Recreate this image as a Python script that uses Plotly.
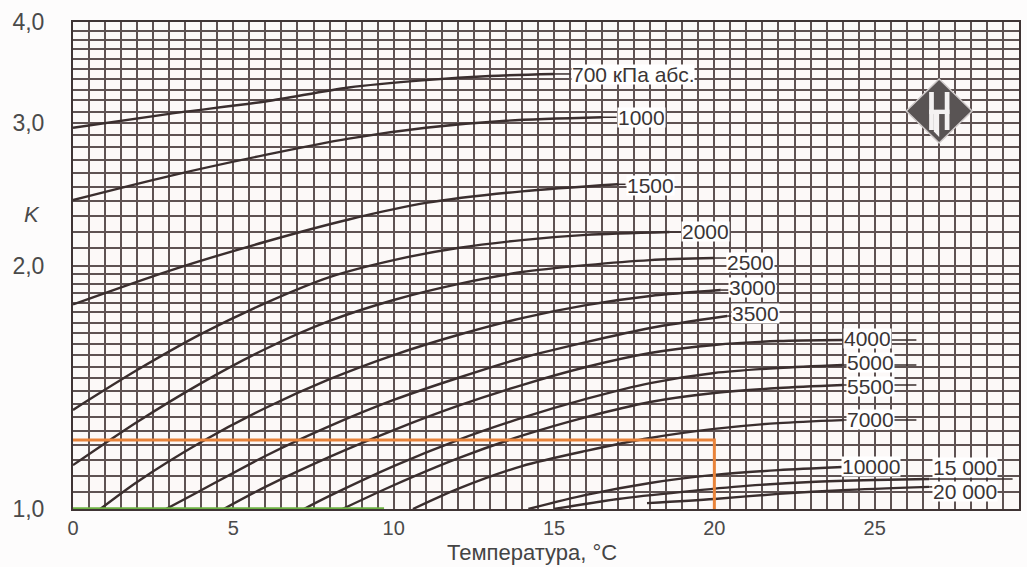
import math
import plotly.graph_objects as go

# ---- data (temperature in °C, K value) ----
t_700 = [0, 3, 6, 8.6, 11, 13, 15]
k_700 = [2.96, 3.08, 3.19, 3.32, 3.39, 3.43, 3.45]

t_1000 = [0, 3, 6, 8.6, 11, 13.5, 16.5]
k_1000 = [2.41, 2.58, 2.74, 2.87, 2.96, 3.02, 3.05]

t_1500 = [0, 3, 6, 8.6, 11, 14, 17]
k_1500 = [1.79, 1.97, 2.14, 2.28, 2.39, 2.47, 2.52]

t_2000 = [0, 2, 4, 6, 8, 10, 12, 14, 16, 18.6]
k_2000 = [1.326, 1.485, 1.646, 1.797, 1.935, 2.031, 2.102, 2.150, 2.182, 2.200]

t_2500 = [0, 2, 4, 6, 8, 10, 12, 14, 16, 18, 20]
k_2500 = [1.133, 1.281, 1.431, 1.577, 1.708, 1.813, 1.897, 1.963, 2.002, 2.031, 2.043]

t_3000 = [0.85, 2, 4, 6, 8, 10, 12, 14, 16, 18, 20.2]
k_3000 = [1.0, 1.080, 1.210, 1.333, 1.447, 1.550, 1.641, 1.722, 1.787, 1.834, 1.865]

t_3500 = [2.9, 4, 6, 8, 10, 12, 14, 16, 18, 20.4]
k_3500 = [1.0, 1.055, 1.163, 1.266, 1.364, 1.452, 1.537, 1.608, 1.674, 1.732]

t_4000 = [4.7, 6, 8, 10, 12, 14, 16, 18, 20, 22, 24]
k_4000 = [1.0, 1.065, 1.160, 1.252, 1.341, 1.423, 1.498, 1.559, 1.595, 1.613, 1.618]

t_5000 = [7.2, 8, 10, 12, 14, 16, 18, 20, 22, 24]
k_5000 = [1.0, 1.038, 1.130, 1.217, 1.296, 1.368, 1.431, 1.473, 1.494, 1.507]

t_5500 = [8.4, 10, 12, 14, 16, 18, 20, 22, 24]
k_5500 = [1.0, 1.070, 1.155, 1.232, 1.299, 1.356, 1.391, 1.411, 1.423]

t_7000 = [10.6, 12, 14, 16, 18, 20, 22, 24]
k_7000 = [1.0, 1.059, 1.130, 1.180, 1.224, 1.256, 1.277, 1.288]

t_10000 = [14.2, 16, 18, 20, 22, 24]
k_10000 = [1.0, 1.041, 1.077, 1.102, 1.117, 1.127]

t_15000 = [15, 17, 19, 21, 23, 25, 26.7]
k_15000 = [1.0, 1.029, 1.050, 1.068, 1.080, 1.086, 1.089]

t_20000 = [17.9, 20, 22, 24, 26.7]
k_20000 = [1.017, 1.029, 1.044, 1.055, 1.065]

curve_labels = ["700 кПа абс.", "1000", "1500", "2000", "2500", "3000", "3500",
                "4000", "5000", "5500", "7000", "10000", "15 000", "20 000"]
curve_t = [t_700, t_1000, t_1500, t_2000, t_2500, t_3000, t_3500,
           t_4000, t_5000, t_5500, t_7000, t_10000, t_15000, t_20000]
curve_k = [k_700, k_1000, k_1500, k_2000, k_2500, k_3000, k_3500,
           k_4000, k_5000, k_5500, k_7000, k_10000, k_15000, k_20000]

# label placement (left edge temperature, K of label centre) and leader end
label_t = [15.52, 16.95, 17.23, 18.97, 20.37, 20.44, 20.53,
           24.0, 24.1, 24.1, 24.1, 23.95, 26.8, 26.8]
label_k = [3.44, 3.05, 2.515, 2.206, 2.02, 1.876, 1.747,
           1.625, 1.519, 1.418, 1.292, 1.130, 1.127, 1.052]
leader_end_t = [15.52, 16.95, 17.23, 18.97, 20.37, 20.44, 20.53,
                26.3, 26.3, 26.3, 26.3, 24.0, 29.3, 26.8]

# example construction lines
orange_k = 1.217
orange_t = 20
green_t_end = 9.7

x_grid = [i * 0.5 for i in range(60)]
x_tick_text = [str(int(v)) if v % 5 == 0 else "" for v in x_grid]
y_grid = [round(1 + 0.05 * i, 2) for i in range(21)] + [round(2.1 + 0.1 * i, 1) for i in range(20)]
y_major = {1.0: "1,0", 2.0: "2,0", 3.0: "3,0", 4.0: "4,0"}
y_tick_text = [y_major.get(v, "") for v in y_grid]

CURVE = "#3a2e2e"
GRID = "#5e5252"
FONT = "Liberation Sans, Arial, sans-serif"
LABEL_SIZE = 21

fig = go.Figure()

for t, k in zip(curve_t, curve_k):
    fig.add_trace(go.Scatter(x=t, y=k, mode="lines", line=dict(color=CURVE, width=2.4, shape="spline", smoothing=0.8),
                             hoverinfo="skip", showlegend=False))

for t, k, te in zip(curve_t, curve_k, leader_end_t):
    fig.add_trace(go.Scatter(x=[t[-1], te], y=[k[-1], k[-1]], mode="lines",
                             line=dict(color=CURVE, width=1.5), hoverinfo="skip", showlegend=False))

# orange example line
fig.add_trace(go.Scatter(x=[0, orange_t, orange_t], y=[orange_k, orange_k, 0.99], mode="lines",
                         line=dict(color="#e8833a", width=3), hoverinfo="skip", showlegend=False, cliponaxis=False))
# green baseline segment
fig.add_trace(go.Scatter(x=[0, green_t_end], y=[1.0, 1.0], mode="lines",
                         line=dict(color="#6cb142", width=3.5), hoverinfo="skip", showlegend=False, cliponaxis=False))

annotations = []
for txt, lt, lk in zip(curve_labels, label_t, label_k):
    annotations.append(dict(x=lt, y=math.log10(lk), xref="x", yref="y", text=txt, showarrow=False,
                            xanchor="left", yanchor="middle", bgcolor="white", borderpad=0, height=19,
                            font=dict(family=FONT, size=LABEL_SIZE, color="#3a3535")))

annotations.append(dict(x=-0.054, y=0.604, xref="paper", yref="paper", text="<i>K</i>", showarrow=False,
                        font=dict(family=FONT, size=22, color="#4a4a4a")))
annotations.append(dict(x=0.485, y=-0.0903, xref="paper", yref="paper", text="Температура, °C", showarrow=False,
                        yanchor="middle", font=dict(family=FONT, size=22, color="#444444")))

# logo (diamond with white bars), paper coordinates
shapes = [
    dict(type="path", xref="paper", yref="paper",
         path="M 0.8808,0.8172 L 0.9156,0.8829 L 0.9504,0.8172 L 0.9156,0.7515 Z",
         fillcolor="#595454", line=dict(color="#cfcaca", width=1.5)),
    dict(type="rect", xref="paper", yref="paper", x0=0.9050, x1=0.9100, y0=0.7782, y1=0.8563,
         fillcolor="#f4f2f2", line=dict(width=0)),
    dict(type="rect", xref="paper", yref="paper", x0=0.9215, x1=0.9265, y0=0.7782, y1=0.8563,
         fillcolor="#f4f2f2", line=dict(width=0)),
    dict(type="rect", xref="paper", yref="paper", x0=0.9050, x1=0.9265, y0=0.8110, y1=0.8200,
         fillcolor="#f4f2f2", line=dict(width=0)),
    dict(type="path", xref="paper", yref="paper",
         path="M 0.9100,0.8110 L 0.9156,0.8110 L 0.9156,0.7640 L 0.9100,0.7750 Z",
         fillcolor="#f4f2f2", line=dict(width=0)),
]

fig.update_layout(
    width=1027, height=567,
    margin=dict(l=73, r=6, t=22, b=58),
    paper_bgcolor="#fdfcfc", plot_bgcolor="#fcf9f8",
    annotations=annotations, shapes=shapes,
    font=dict(family=FONT, color="#444444"),
    xaxis=dict(range=[0, 29.5], tickmode="array", tickvals=x_grid, ticktext=x_tick_text,
               showgrid=True, gridcolor=GRID, gridwidth=1.5, zeroline=False,
               showline=True, linecolor="#3f3434", linewidth=2, mirror=True,
               ticks="", ticklabelstandoff=0, tickfont=dict(family=FONT, size=20, color="#4a4a4a")),
    yaxis=dict(type="log", range=[0, math.log10(4)], tickmode="array", tickvals=y_grid, ticktext=y_tick_text,
               showgrid=True, gridcolor=GRID, gridwidth=1.5, zeroline=False,
               showline=True, linecolor="#3f3434", linewidth=2, mirror=True,
               ticks="", ticklabelstandoff=22, tickfont=dict(family=FONT, size=23, color="#4a4a4a")),
)

fig.write_html("out.html")
